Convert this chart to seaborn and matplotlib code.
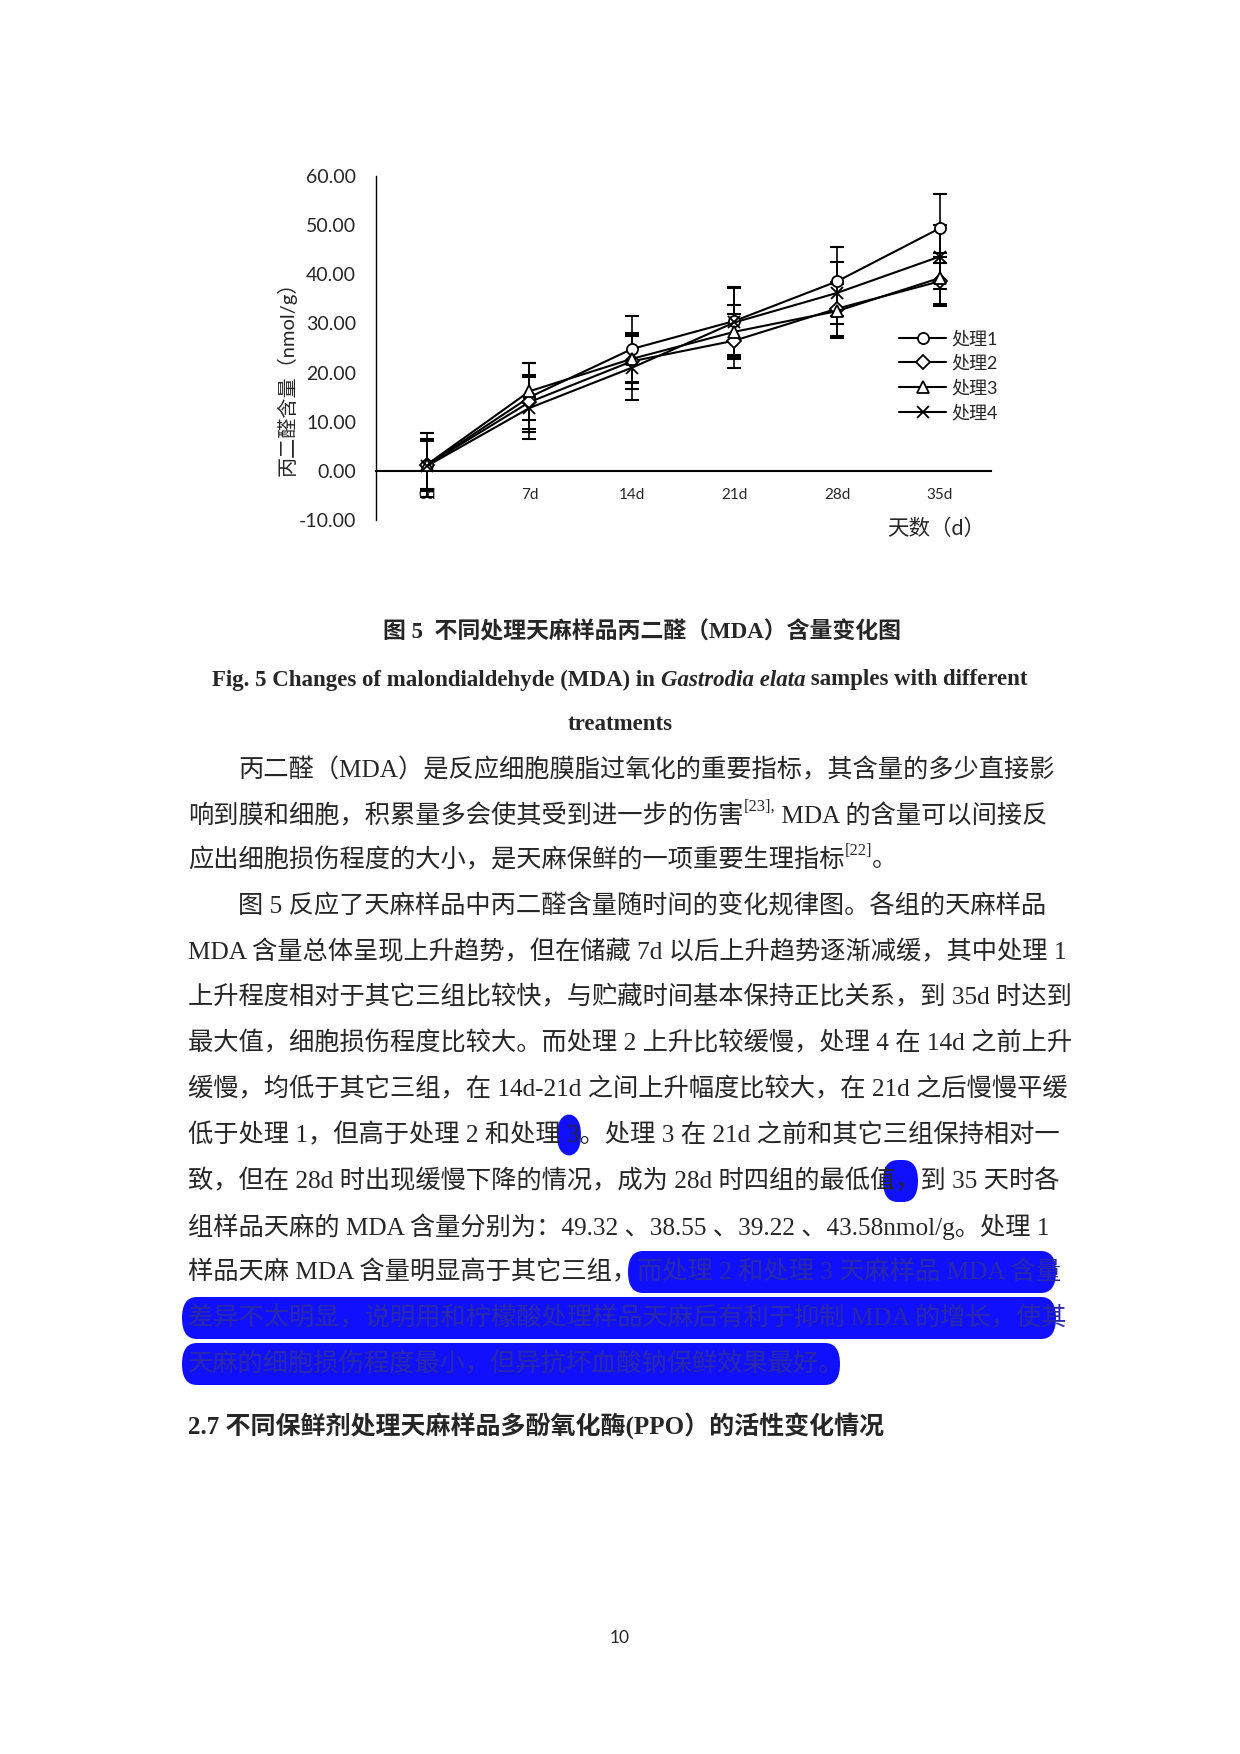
import matplotlib
matplotlib.use("Agg")
import matplotlib.pyplot as plt
import seaborn as sns
import pandas as pd
from matplotlib.patches import FancyBboxPatch

days = ["0d", "7d", "14d", "21d", "28d", "35d"]
series = ["处理1", "处理2", "处理3", "处理4"]
t1 = [1.2, 15.0, 24.8, 30.5, 38.55, 49.32]
t2 = [1.2, 14.0, 22.3, 26.5, 33.0, 38.55]
t3 = [1.3, 16.2, 22.8, 28.3, 32.5, 39.22]
t4 = [1.0, 12.8, 21.0, 30.2, 36.2, 43.58]
e1 = [6.5, 7.0, 6.8, 7.0, 7.0, 7.0]
e2 = [5.2, 5.5, 5.7, 5.5, 5.5, 5.0]
e3 = [5.0, 5.8, 5.0, 5.5, 5.5, 5.2]
e4 = [5.0, 6.3, 6.5, 7.0, 6.3, 6.5]
yticks = [-10, 0, 10, 20, 30, 40, 50, 60]

sns.set_theme(style="white")
CH = ['Lato', 'Noto Sans CJK SC']
BODY = ['Liberation Serif', 'Noto Sans CJK SC']
plt.rcParams['font.family'] = CH

fig = plt.figure(figsize=(12.4, 17.54), dpi=100)
ax = fig.add_axes([0.303, 0.7035, 0.496, 0.1962])

rows = []
for name, vals in zip(series, [t1, t2, t3, t4]):
    for i, v in enumerate(vals):
        rows.append({"x": i, "y": v, "s": name})
df = pd.DataFrame(rows)
markers = ['o', 'D', '^', 'x']
msizes = [8, 7, 8, 9]
for name, err, m, ms in zip(series, [e1, e2, e3, e4], markers, msizes):
    sub = df[df.s == name]
    ax.errorbar(sub.x, sub.y, yerr=err, fmt='none', ecolor='black', elinewidth=1.2, capsize=5, capthick=1.5, zorder=2)
    sns.lineplot(data=sub, x="x", y="y", ax=ax, color='black', lw=1.5, marker=m, markersize=ms,
                 markerfacecolor='white', markeredgecolor='black', markeredgewidth=1.3, label=name, zorder=3)

ax.set_xlim(-0.5, 5.5)
ax.set_ylim(-10, 60)
ax.set_yticks(yticks)
ax.set_yticklabels([f"{v:.2f}" for v in yticks], fontsize=14)
ax.set_xticks(range(len(days)))
ax.set_xticklabels(days, fontsize=14)
for s in ['top', 'right']:
    ax.spines[s].set_visible(False)
ax.spines['bottom'].set_position(('data', 0))
ax.spines['left'].set_color('black'); ax.spines['bottom'].set_color('black')
ax.spines['left'].set_linewidth(1.0); ax.spines['bottom'].set_linewidth(1.5)
ax.tick_params(axis='x', length=0, pad=12)
ax.tick_params(axis='y', length=0, pad=14)
ax.set_xlabel(""); ax.set_ylabel("")
ax.grid(False)
fig.text(287/1240, 1 - 374/1754, "丙二醛含量（nmol/g）", rotation=90, ha='center', va='center', fontsize=14.5, family=CH)
fig.text(936/1240, 1 - 529/1754, "天数（d）", ha='center', va='center', fontsize=15.5, family=CH)
ax.legend(loc='upper left', bbox_to_anchor=(0.712, 0.8210), bbox_transform=fig.transFigure,
          frameon=False, fontsize=13, handlelength=2.6, labelspacing=0.45, handletextpad=0.3)

renderer = fig.canvas.get_renderer()
FS = 18.2

def segs(x, y, parts, ha='left'):
    """parts: list of (text, kwargs). Draw sequentially from pixel x."""
    objs = []
    for s, kw in parts:
        k = dict(fontsize=FS, family=BODY)
        k.update(kw)
        dy = k.pop('dy', 0)
        objs.append((fig.text(0, 0, s, va='center', ha='left', **k), dy))
    widths = [o.get_window_extent(renderer).width for o, _ in objs]
    total = sum(widths)
    cx = x - total / 2 if ha == 'center' else x
    for (o, dy), w in zip(objs, widths):
        o.set_position((cx / 1240, 1 - (y + dy) / 1754))
        cx += w

def T(x, y, s, **kw):
    ha = kw.pop('ha', 'left')
    segs(x, y, [(s, kw)], ha=ha)

T(642, 632, "图 5  不同处理天麻样品丙二醛（MDA）含量变化图", ha='center', fontweight='bold', fontsize=16.5)
segs(620, 680, [("Fig. 5 Changes of malondialdehyde (MDA) in ", dict(fontweight='bold', fontsize=16.5)),
                ("Gastrodia elata", dict(fontweight='bold', style='italic', fontsize=16.5)),
                (" samples with different", dict(fontweight='bold', fontsize=16.5))], ha='center')
T(620, 725, "treatments", ha='center', fontweight='bold', fontsize=16.5)

def hl(x0, x1, y):
    h = 42 / 1754
    yc = 1 - y / 1754
    fig.patches.append(FancyBboxPatch((x0 / 1240, yc - h / 2), (x1 - x0) / 1240, h,
                                      boxstyle="round,pad=0,rounding_size=0.012",
                                      transform=fig.transFigure, fc='#1010ff', ec='none', zorder=0))
hl(628, 1056, 1272)
hl(182, 1056, 1318)
hl(182, 840, 1364)
hl(557, 581, 1135)
hl(883, 918, 1181)

SUP = dict(fontsize=12, dy=-9)
segs(238, 770, [("丙二醛（MDA）是反应细胞膜脂过氧化的重要指标，其含量的多少直接影", {})])
segs(188, 816, [("响到膜和细胞，积累量多会使其受到进一步的伤害", {}), ("[23],", SUP),
                (" MDA 的含量可以间接反", {})])
segs(188, 860, [("应出细胞损伤程度的大小，是天麻保鲜的一项重要生理指标", {}), ("[22]", SUP), ("。", {})])
lines = [
    (238, 906, "图 5 反应了天麻样品中丙二醛含量随时间的变化规律图。各组的天麻样品"),
    (188, 952, "MDA 含量总体呈现上升趋势，但在储藏 7d 以后上升趋势逐渐减缓，其中处理 1"),
    (188, 997, "上升程度相对于其它三组比较快，与贮藏时间基本保持正比关系，到 35d 时达到"),
    (188, 1043, "最大值，细胞损伤程度比较大。而处理 2 上升比较缓慢，处理 4 在 14d 之前上升"),
    (188, 1089, "缓慢，均低于其它三组，在 14d-21d 之间上升幅度比较大，在 21d 之后慢慢平缓"),
    (188, 1135, "低于处理 1，但高于处理 2 和处理 3。处理 3 在 21d 之前和其它三组保持相对一"),
    (188, 1181, "致，但在 28d 时出现缓慢下降的情况，成为 28d 时四组的最低值，到 35 天时各"),
    (188, 1227, "组样品天麻的 MDA 含量分别为：49.32 、38.55 、39.22 、43.58nmol/g。处理 1"),
]
for x, y, s in lines:
    T(x, y, s)
segs(188, 1272, [("样品天麻 MDA 含量明显高于其它三组，", {}),
                 ("而处理 2 和处理 3 天麻样品 MDA 含量", dict(color='#2a2aa8'))])
T(188, 1318, "差异不太明显，说明用和柠檬酸处理样品天麻后有利于抑制 MDA 的增长，使其", color='#2a2aa8')
T(188, 1364, "天麻的细胞损伤程度最小，但异抗坏血酸钠保鲜效果最好。", color='#2a2aa8')
T(188, 1426, "2.7 不同保鲜剂处理天麻样品多酚氧化酶(PPO）的活性变化情况", fontweight='bold', fontsize=18)
T(620, 1638, "10", ha='center', fontsize=12.5, family=CH)

fig.savefig("out.png", dpi=100, facecolor='white')
